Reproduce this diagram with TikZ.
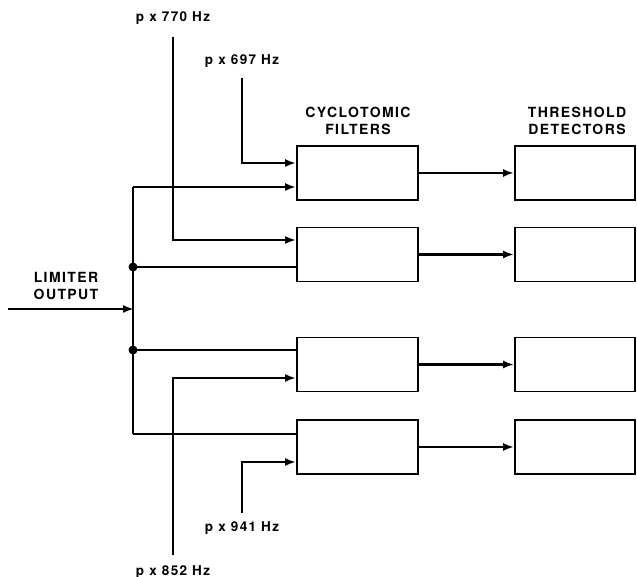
\documentclass[tikz,border=0pt]{standalone}
\usepackage{fontspec}
\setmainfont{TeX Gyre Heros}[LetterSpace=10]
\usetikzlibrary{arrows.meta}
\begin{document}
\begin{tikzpicture}[x=1pt,y=-1pt,
  box/.style={draw,line width=1.8pt,minimum width=121pt,minimum height=54pt,inner sep=0pt},
  wire/.style={line width=2.5pt},
  arr/.style={wire,-{Latex[length=11pt,width=8pt]}},
  lbl/.style={font=\bfseries\fontsize{13.5}{15}\selectfont,inner sep=0pt},
  hdr/.style={font=\bfseries\fontsize{14}{16.5}\selectfont,align=center,inner sep=0pt},
  dot/.style={circle,fill,inner sep=0pt,minimum size=9pt}]
\useasboundingbox (0,0) rectangle (637,577);
% filters
\node[box] (f1) at (357.5,173) {};
\node[box] (f2) at (357.5,254.5) {};
\node[box] (f3) at (357.5,364.5) {};
\node[box] (f4) at (357.5,447) {};
% detectors
\node[box,minimum width=120pt] (d1) at (575,173) {};
\node[box,minimum width=120pt] (d2) at (575,254.5) {};
\node[box,minimum width=120pt] (d3) at (575,364.5) {};
\node[box,minimum width=120pt] (d4) at (575,447) {};
% headers
\node[hdr] (hf) at (358,121) {CYCLOTOMIC\\FILTERS};
\node[hdr] (hd) at (577,121) {THRESHOLD\\DETECTORS};
% labels
\node[lbl] (l770) at (173,18) {p x 770 Hz};
\node[lbl] (l697) at (242,61) {p x 697 Hz};
\node[lbl] (l941) at (242,528) {p x 941 Hz};
\node[lbl] (l852) at (173,572) {p x 852 Hz};
\node[hdr] (lim) at (66,286) {LIMITER\\OUTPUT};
% coordinates
\coordinate (in) at (8,309);
\coordinate (bj) at (134,309);
\coordinate (btop) at (133,187);
\coordinate (bbot) at (133,434);
\node[dot] (j1) at (133,267) {};
\node[dot] (j2) at (133,350) {};
\coordinate (s770) at (173,37);
\coordinate (s697) at (242,78);
\coordinate (s852) at (173,555);
\coordinate (s941) at (242,513);
% limiter input and bus
\draw[arr] (in) -- (bj);
\draw[wire] (btop) -- (bbot);
\draw[arr] (btop) -- (f1.west |- btop);
\draw[wire] (j1.center) -- (f2.west |- j1);
\draw[wire] (j2.center) -- (f3.west |- j2);
\draw[wire] (bbot) -- (f4.west |- bbot);
% frequency inputs
\draw[arr] (s697) |- (f1.west |- 0,163);
\draw[arr] (s770) |- (f2.west |- 0,240);
\draw[arr] (s852) |- (f3.west |- 0,378);
\draw[arr] (s941) |- (f4.west |- 0,462);
% filter to detector
\draw[arr] (f1) -- (d1);
\draw[arr] (f2) -- (d2);
\draw[arr] (f3) -- (d3);
\draw[arr] (f4) -- (d4);
\end{tikzpicture}
\end{document}
